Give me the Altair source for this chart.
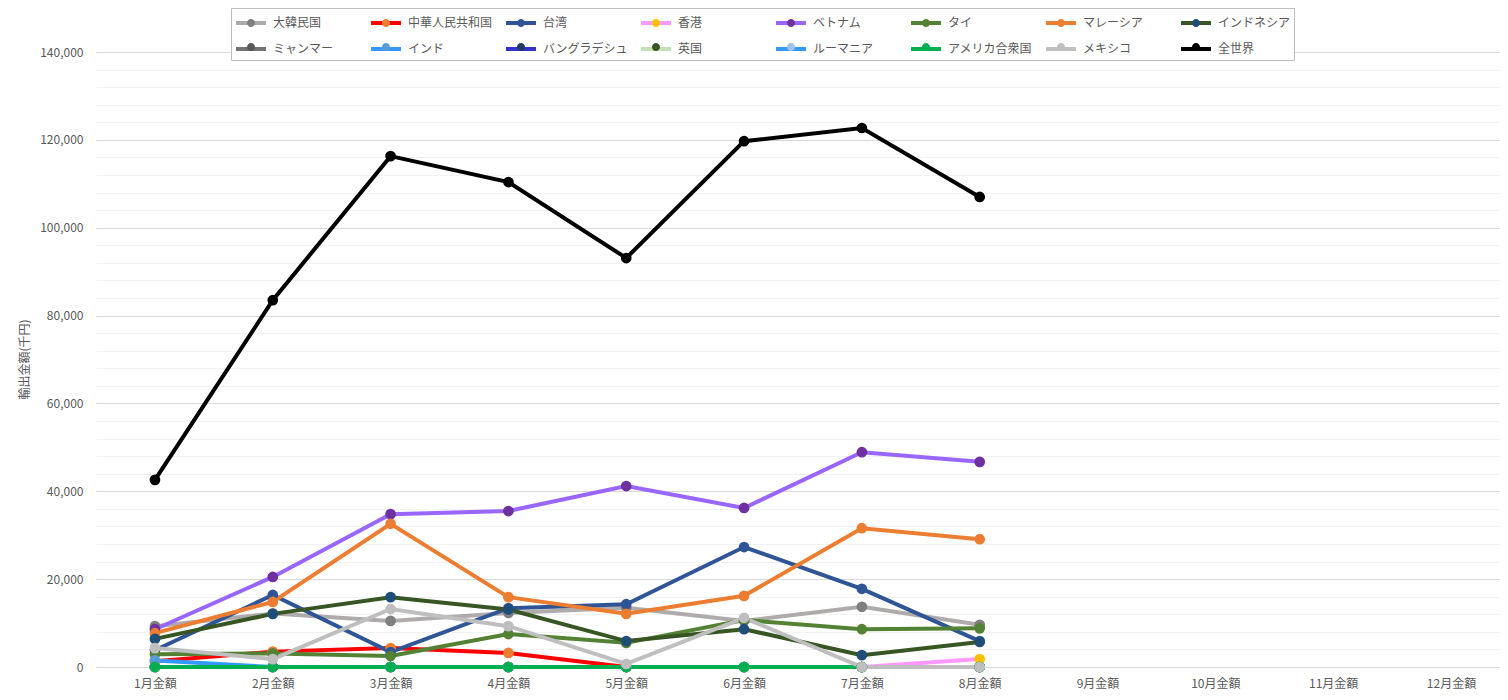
import altair as alt
import pandas as pd

FONT = "Noto Sans CJK JP"

months = ["1月金額", "2月金額", "3月金額", "4月金額", "5月金額", "6月金額",
          "7月金額", "8月金額", "9月金額", "10月金額", "11月金額", "12月金額"]

countries = ["大韓民国", "中華人民共和国", "台湾", "香港", "ベトナム", "タイ", "マレーシア", "インドネシア",
             "ミャンマー", "インド", "バングラデシュ", "英国", "ルーマニア", "アメリカ合衆国", "メキシコ", "全世界"]

line_colors = ["#AFABAB", "#FF0000", "#2F5597", "#FF99FF", "#9966FF", "#548235", "#ED7D31", "#375623",
               "#767171", "#3399FF", "#3333CC", "#C5E0B4", "#3399FF", "#00B050", "#BFBFBF", "#000000"]
marker_colors = ["#7F7F7F", "#ED7D31", "#2F5597", "#FFC000", "#7030A0", "#548235", "#ED7D31", "#1F4E79",
                 "#595959", "#5B9BD5", "#1F3864", "#375623", "#9DC3E6", "#00B050", "#BFBFBF", "#000000"]

# values (千円), Jan..Aug
korea = [9300, 12200, 10500, 12300, 13500, 10500, 13700, 9600]
china = [1300, 3500, 4300, 3200, 0, 0, 0, 0]
taiwan = [3800, 16400, 3400, 13400, 14300, 27300, 17800, 5900]
hongkong = [0, 0, 0, 0, 0, 0, 0, 1800]
vietnam = [8600, 20500, 34800, 35500, 41200, 36200, 48900, 46700]
thailand = [2900, 3100, 2500, 7500, 5500, 10700, 8600, 8800]
malaysia = [7700, 14800, 32600, 15900, 12100, 16200, 31600, 29100]
indonesia = [6400, 12100, 15900, 13100, 5900, 8600, 2700, 5700]
myanmar = [0, 0, 0, 0, 0, 0, 0, 0]
india = [1500, 0, 0, 0, 0, 0, 0, 0]
bangladesh = [0, 0, 0, 0, 0, 0, 0, 0]
uk = [0, 0, 0, 0, 0, 0, 0, 0]
romania = [0, 0, 0, 0, 0, 0, 0, 0]
usa = [0, 0, 0, 0, 0, 0, 0, 0]
mexico = [4300, 1800, 13200, 9300, 700, 11200, 0, 0]
world = [42600, 83500, 116300, 110400, 93100, 119700, 122700, 107000]

series = [korea, china, taiwan, hongkong, vietnam, thailand, malaysia, indonesia,
          myanmar, india, bangladesh, uk, romania, usa, mexico, world]

y_ticks = list(range(0, 140001, 4000))

# marker legend uses its own (slightly extended) domain so it is not merged with the line legend
marker_domain = countries + [" "]
marker_range = marker_colors + ["rgba(0,0,0,0)"]

rows = []
for i, (name, vals) in enumerate(zip(countries, series)):
    for j, v in enumerate(vals):
        rows.append({"country": name, "country_m": name, "month": months[j],
                     "value": v, "order": i})
df = pd.DataFrame(rows)

x_enc = alt.X("month:N", sort=months,
              scale=alt.Scale(type="point", domain=months, padding=0.4582, align=0.546),
              axis=alt.Axis(title=None, labelAngle=0, domain=False, ticks=False, tickSize=0,
                            labelPadding=11, labelFont=FONT, labelFontSize=12,
                            labelColor="#595959", grid=False))
y_enc = alt.Y("value:Q",
              scale=alt.Scale(domain=[0, 140000], nice=False, zero=True),
              axis=alt.Axis(values=y_ticks,
                            labelExpr="datum.value % 20000 === 0 ? format(datum.value, ',') : ''",
                            gridColor={"condition": {"test": "datum.value % 20000 === 0", "value": "#D9D9D9"},
                                       "value": "#F2F2F2"},
                            gridWidth=1,
                            domain=False, ticks=False, tickSize=0, labelPadding=13,
                            labelFont=FONT, labelFontSize=12, labelColor="#595959",
                            title="輸出金額(千円)", titleFont=FONT, titleFontSize=12,
                            titleFontWeight="normal", titleColor="#595959",
                            titleX=-72, titleY=307, titleAlign="center", titleBaseline="middle",
                            titleAngle=270))

LX, LY = 135, -44
common_leg = dict(orient="none", legendX=LX, legendY=LY, columns=8, direction="horizontal",
                  title=None, symbolSize=400, symbolStrokeWidth=4, symbolOffset=5,
                  gridAlign="all", columnPadding=5, padding=3, labelOffset=10,
                  labelFont=FONT, labelFontSize=12, labelLimit=200, labelColor="#595959")

legend_lines = alt.Legend(symbolType="M-1.5,0L1.5,0", strokeColor="#BFBFBF", fillColor="#FFFFFF",
                          rowPadding=6, **common_leg)
legend_points = alt.Legend(symbolType="M-1.5,0L1.5,0M-0.4,0A0.4,0.4 0 1,0 0.4,0A0.4,0.4 0 1,0 -0.4,0Z",
                           labelOpacity=0, symbolOpacity=1, symbolStrokeColor="rgba(0,0,0,0)",
                           rowPadding=0, **common_leg)

base = alt.Chart(df)

lines = base.mark_line(strokeWidth=4).encode(
    x=x_enc, y=y_enc,
    color=alt.Color("country:N", scale=alt.Scale(domain=countries, range=line_colors),
                    sort=countries, legend=legend_lines),
)

points = base.mark_point(filled=True, size=115, opacity=1).encode(
    x=x_enc, y=y_enc,
    fill=alt.Fill("country_m:N", scale=alt.Scale(domain=marker_domain, range=marker_range),
                  legend=legend_points),
    order=alt.Order("order:Q"),
)

chart = alt.layer(lines, points).properties(
    width=1404, height=615,
    autosize=alt.AutoSizeParams(type="none"),
    padding={"left": 88, "top": 44, "right": 0, "bottom": 24},
    background="#FFFFFF",
).configure_view(stroke=None)

chart.save("out.html", embed_options={"renderer": "svg", "actions": False})
